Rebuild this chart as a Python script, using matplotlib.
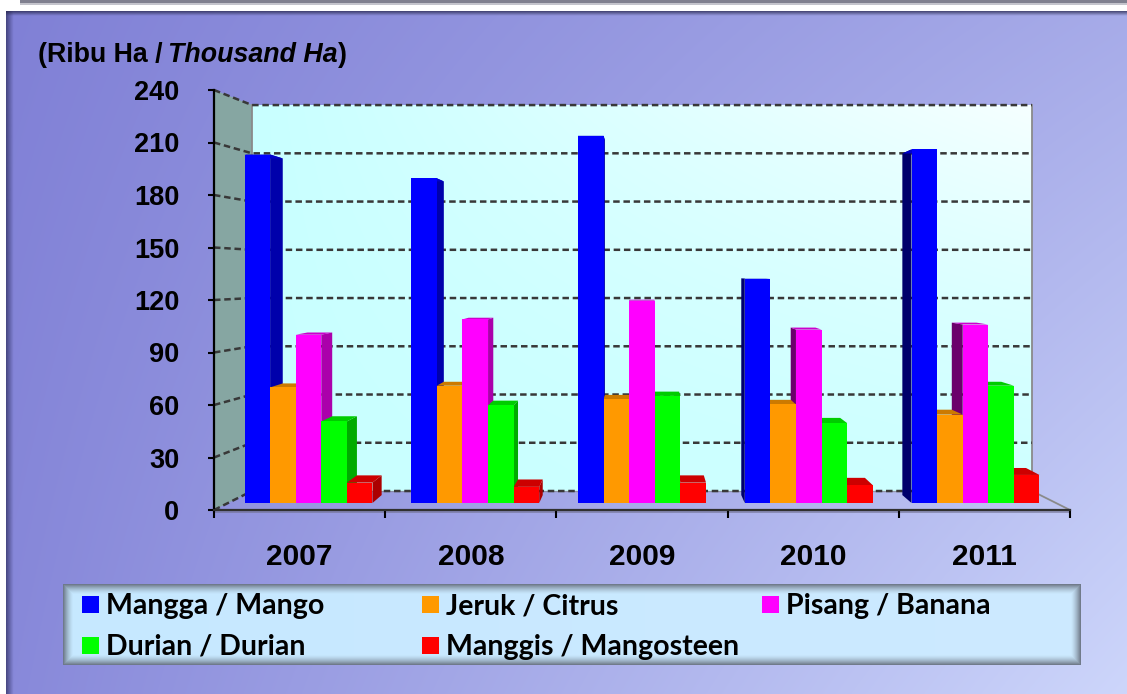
import numpy as np
import matplotlib
matplotlib.use('Agg')
import matplotlib.pyplot as plt
from matplotlib.patches import Polygon, Rectangle

WIDTH, HEIGHT = 1127, 694

years = ['2007', '2008', '2009', '2010', '2011']
y_ticks = [0, 30, 60, 90, 120, 150, 180, 210, 240]

mangga = [205, 191, 216, 132, 208]
jeruk = [68, 69, 61, 58, 52]
pisang = [99, 108, 119, 102, 105]
durian = [48, 57.5, 63, 47, 69]
manggis = [12, 9.5, 12, 10.5, 16.5]

series = [mangga, jeruk, pisang, durian, manggis]
series_names = ['Mangga / Mango', 'Jeruk / Citrus', 'Pisang / Banana',
                'Durian / Durian', 'Manggis / Mangosteen']
colors = ['#0000ff', '#ff9900', '#ff00ff', '#00ff00', '#ff0000']

BAR_WIDTH = 0.1535
DEPTH = 0.034
VANISH_X, VANISH_Y = 2.0, 137.0


def px_axes(fig, left, top, right, bottom):
    return fig.add_axes([left / WIDTH, 1 - bottom / HEIGHT,
                         (right - left) / WIDTH, (bottom - top) / HEIGHT])


def back(x, v):
    return x + DEPTH * (VANISH_X - x), v + DEPTH * (VANISH_Y - v)


def shade(color, factor):
    rgb = np.array(matplotlib.colors.to_rgb(color))
    return tuple(rgb * factor)


def gradient(ax, extent, c0, c1, blend, edge=0, edge_alpha=0.5):
    x0, y0, x1, y1 = extent
    w, h = int(x1 - x0), int(y1 - y0)
    xx, yy = np.meshgrid(np.linspace(0, 1, w), np.linspace(0, 1, h))
    t = blend(xx, yy)[..., None]
    img = np.array(matplotlib.colors.to_rgb(c0)) * (1 - t) + np.array(matplotlib.colors.to_rgb(c1)) * t
    if edge:
        px, py = np.meshgrid(np.arange(w), np.arange(h))
        dist = np.minimum.reduce([px, py, w - 1 - px, h - 1 - py])
        dark = np.clip(1 - dist / edge, 0, 1)[..., None] ** 1.5 * edge_alpha
        img = img * (1 - dark) + np.array([0.25, 0.25, 0.3]) * dark
    ax.imshow(img, extent=(x0, x1, y1, y0), aspect='auto', zorder=1, interpolation='bilinear')


def shadow(ax, extent, vertical, alpha, color=(0.2, 0.2, 0.4)):
    fade = np.linspace(alpha, 0, 12)
    img = np.zeros((12, 1, 4)) if vertical else np.zeros((1, 12, 4))
    img[..., :3] = color
    img[..., 3] = fade[:, None] if vertical else fade[None, :]
    ax.imshow(img, extent=extent, aspect='auto', zorder=1.2, interpolation='bilinear')


def wall_front(v):
    return 510 - 1.75 * v


def wall_back(v):
    return 491 - 1.608 * v


def main():
    plt.rcParams['font.family'] = ['Liberation Sans', 'DejaVu Sans']
    fig = plt.figure(figsize=(WIDTH / 100, HEIGHT / 100), dpi=100, facecolor='white')

    # background layer in pixel coordinates
    bg = fig.add_axes([0, 0, 1, 1], zorder=0)
    gradient(bg, (6, 11, WIDTH, HEIGHT), '#8080d6', '#cdd6fb',
             lambda x, y: 0.5 * x + 0.1 * y + 0.4 * x * y)
    shadow(bg, (6, 14, HEIGHT, 11), False, 0.75)
    shadow(bg, (6, WIDTH, 16, 11), True, 0.75, color=(0.15, 0.15, 0.3))
    bg.add_patch(Rectangle((20, 0), WIDTH, 3, color='#80808f', lw=0, zorder=1.2))
    bg.add_patch(Rectangle((20, 3), WIDTH, 1.5, color='#c4c4cc', lw=0, zorder=1.2))

    # chart walls
    gradient(bg, (252, 105, 1032, 491), '#c8ffff', '#f6ffff',
             lambda x, y: 0.15 * x + 0.85 * x * (1 - y) ** 1.5)
    bg.add_patch(Polygon([(214, 90), (252, 105), (252, 491), (214, 510)], closed=True,
                         facecolor='#86a6a2', edgecolor='none', zorder=1.5))
    bg.plot([252, 252], [491, 105], color='#8a8a8a', lw=1.3, zorder=1.6)
    bg.plot([1032, 1032, 1070], [105, 491, 510], color='#8a8a8a', lw=1.3, zorder=1.6)
    bg.plot([252, 1032], [491, 491], color='#808080', lw=1.0, zorder=1.6, alpha=0.6)
    bg.plot([214, 1070], [512, 512], color='#707090', lw=1.2, zorder=1.6, alpha=0.7)
    for v in y_ticks:
        bg.plot([214, 252, 1032], [wall_front(v), wall_back(v), wall_back(v)], color='#383838', lw=1.8,
                dashes=(2.6, 1.5), zorder=1.7)

    # legend panel
    gradient(bg, (63, 584, 1081, 665), '#c6e8ff', '#cdeaff', lambda x, y: x, edge=10, edge_alpha=0.65)
    rows = [(605, 82), (605, 422), (605, 762), (646, 82), (646, 422)]
    for (cy, mx), name, color in zip(rows, series_names, colors):
        bg.add_patch(Rectangle((mx, cy - 9), 17, 17, color=color, lw=0, zorder=2))
        bg.text(mx + 24, cy + 1, name, family=['Lato', 'DejaVu Sans'], weight='bold', fontsize=20.5,
                va='center', ha='left', color='black', zorder=3)

    bg.set_xlim(0, WIDTH)
    bg.set_ylim(HEIGHT, 0)
    bg.axis('off')

    # unit label, three runs placed one after the other
    t1 = bg.text(38, 55, '(Ribu Ha /', weight='bold', fontsize=19.3, va='center', ha='left', zorder=3)
    fig.canvas.draw()
    x = t1.get_window_extent().x1 + 5
    t2 = bg.text(x, 55, 'Thousand Ha', weight='bold', style='italic', fontsize=19.3, va='center', ha='left', zorder=3)
    fig.canvas.draw()
    x = t2.get_window_extent().x1 + 1
    bg.text(x, 55, ')', weight='bold', fontsize=19.3, va='center', ha='left', zorder=3)

    # front axis frame with the tick labels
    frame = px_axes(fig, 214, 90, 1070, 510)
    frame.set_zorder(1)
    frame.patch.set_visible(False)
    frame.set_xlim(0, len(years))
    frame.set_ylim(0, 240)
    frame.set_yticks(y_ticks)
    frame.set_yticklabels([str(v) for v in y_ticks], weight='bold', fontsize=19.5)
    frame.set_xticks(range(len(years) + 1))
    frame.set_xticklabels([])
    frame.set_xticks(np.arange(len(years)) + 0.5, labels=years, minor=True, weight='bold', fontsize=21.5)
    frame.tick_params(axis='y', length=4.5, width=1.5, pad=20.5)
    frame.tick_params(axis='x', which='major', length=6, width=1.5)
    frame.tick_params(axis='x', which='minor', length=0, pad=24)
    for side in ['top', 'right']:
        frame.spines[side].set_visible(False)
    frame.spines['left'].set_linewidth(1.6)
    frame.spines['bottom'].set_linewidth(1.6)
    frame.spines['bottom'].set_color('#303030')

    # bars, on the plane in front of the back wall
    ax = px_axes(fig, 225.125, 95, 1058.875, 503)
    ax.set_zorder(2)
    ax.patch.set_visible(False)
    ax.set_xlim(-0.5, 4.5)
    ax.set_ylim(0, 240)
    ax.axis('off')

    positions = np.arange(len(years))
    offsets = (np.arange(len(series)) - 2) * BAR_WIDTH

    faces = []
    for values, offset, color in zip(series, offsets, colors):
        for pos, value in zip(positions, values):
            faces.append((pos + offset, value, color))
    # outer bars first, so the ones near the vanishing point sit on top
    faces.sort(key=lambda f: -abs(f[0] - VANISH_X))

    for centre, value, color in faces:
        x0, x1 = centre - BAR_WIDTH / 2, centre + BAR_WIDTH / 2
        edge = x1 if centre < VANISH_X else x0
        factor = 0.67 if centre < VANISH_X else 0.42
        bx, bv = back(edge, value)
        bx0, bottom = back(edge, 0)
        ax.add_patch(Polygon([(edge, 0), (edge, value), (bx, bv), (bx0, bottom)], closed=True,
                             facecolor=shade(color, factor), edgecolor='none', zorder=2, clip_on=False))
        top0, topv = back(x0, value)
        top1, _ = back(x1, value)
        ax.add_patch(Polygon([(x0, value), (x1, value), (top1, topv), (top0, topv)], closed=True,
                             facecolor=shade(color, 0.8), edgecolor='none', zorder=2, clip_on=False))

    for values, offset, color in zip(series, offsets, colors):
        ax.bar(positions + offset, values, width=BAR_WIDTH, color=color, linewidth=0, zorder=3)

    fig.savefig('out.png', dpi=100)


if __name__ == '__main__':
    main()
